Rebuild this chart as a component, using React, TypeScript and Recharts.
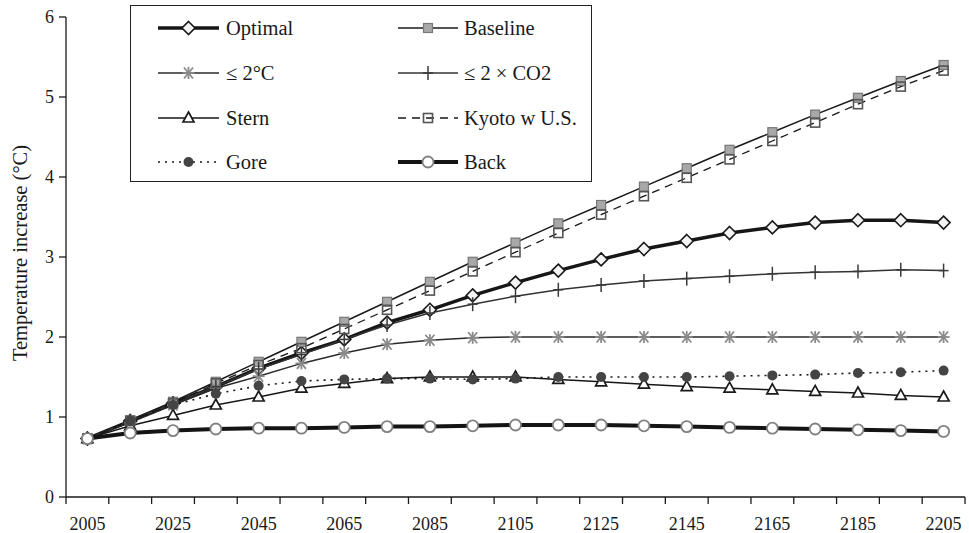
import React from "react"
import {
  CartesianGrid,
  Legend,
  Line,
  LineChart,
  XAxis,
  YAxis,
} from "recharts"

const years = [
  2005, 2015, 2025, 2035, 2045, 2055, 2065, 2075, 2085, 2095, 2105, 2115,
  2125, 2135, 2145, 2155, 2165, 2175, 2185, 2195, 2205,
]
const optimal = [0.73, 0.95, 1.17, 1.38, 1.61, 1.8, 1.97, 2.18, 2.34, 2.52, 2.68, 2.83, 2.97, 3.1, 3.2, 3.3, 3.37, 3.43, 3.46, 3.46, 3.43]
const baseline = [0.73, 0.96, 1.19, 1.44, 1.69, 1.94, 2.19, 2.44, 2.69, 2.94, 3.18, 3.42, 3.65, 3.88, 4.11, 4.34, 4.56, 4.78, 4.99, 5.2, 5.4]
const limit2C = [0.73, 0.93, 1.15, 1.36, 1.51, 1.67, 1.8, 1.91, 1.96, 1.99, 2.0, 2.0, 2.0, 2.0, 2.0, 2.0, 2.0, 2.0, 2.0, 2.0, 2.0]
const limit2CO2 = [0.73, 0.95, 1.17, 1.38, 1.6, 1.78, 1.97, 2.15, 2.3, 2.41, 2.51, 2.59, 2.65, 2.7, 2.73, 2.76, 2.79, 2.81, 2.82, 2.84, 2.83]
const stern = [0.73, 0.89, 1.02, 1.15, 1.25, 1.36, 1.42, 1.48, 1.5, 1.5, 1.5, 1.47, 1.44, 1.41, 1.38, 1.36, 1.34, 1.32, 1.3, 1.27, 1.25]
const kyoto = [0.73, 0.95, 1.17, 1.42, 1.65, 1.86, 2.1, 2.34, 2.58, 2.82, 3.06, 3.3, 3.53, 3.76, 3.99, 4.22, 4.45, 4.68, 4.91, 5.13, 5.33]
const gore = [0.73, 0.95, 1.15, 1.29, 1.39, 1.45, 1.47, 1.48, 1.48, 1.47, 1.48, 1.5, 1.5, 1.5, 1.5, 1.51, 1.52, 1.53, 1.55, 1.56, 1.58]
const back = [0.73, 0.8, 0.83, 0.85, 0.86, 0.86, 0.87, 0.88, 0.88, 0.89, 0.9, 0.9, 0.9, 0.89, 0.88, 0.87, 0.86, 0.85, 0.84, 0.83, 0.82]

// category boundaries carry the tick marks, labels sit every other category
const boundaryTicks = [
  2000, 2010, 2020, 2030, 2040, 2050, 2060, 2070, 2080, 2090, 2100, 2110,
  2120, 2130, 2140, 2150, 2160, 2170, 2180, 2190, 2200, 2210,
]
const labelTicks = [2005, 2025, 2045, 2065, 2085, 2105, 2125, 2145, 2165, 2185, 2205]
const yTicks = [0, 1, 2, 3, 4, 5, 6]
const gridValues = [1, 2, 3, 4, 5]

const FONT = "'Liberation Serif', 'DejaVu Serif', serif"

type Kind = "diamond" | "square" | "star" | "plus" | "triangle" | "openSquare" | "dot" | "circle"

type Series = {
  key: string
  name: string
  values: number[]
  stroke: string
  width: number
  dash?: string
  marker: Kind
}

const series: Series[] = [
  { key: "optimal", name: "Optimal", values: optimal, stroke: "#161616", width: 3.5, marker: "diamond" },
  { key: "baseline", name: "Baseline", values: baseline, stroke: "#1a1a1a", width: 1.5, marker: "square" },
  { key: "c2", name: "≤ 2°C", values: limit2C, stroke: "#2a2a2a", width: 1.5, marker: "star" },
  { key: "co2", name: "≤ 2 × CO2", values: limit2CO2, stroke: "#333", width: 1.5, marker: "plus" },
  { key: "stern", name: "Stern", values: stern, stroke: "#161616", width: 1.5, marker: "triangle" },
  { key: "kyoto", name: "Kyoto w U.S.", values: kyoto, stroke: "#161616", width: 1.3, dash: "8 6", marker: "openSquare" },
  { key: "gore", name: "Gore", values: gore, stroke: "#161616", width: 1.6, dash: "2 5", marker: "dot" },
  { key: "back", name: "Back", values: back, stroke: "#141414", width: 4, marker: "circle" },
]

const data = years.map((year, i) => {
  const row: Record<string, number> = { year }
  series.forEach((s) => {
    row[s.key] = s.values[i]
  })
  return row
})

function Marker({ kind, cx, cy }: { kind: Kind; cx: number; cy: number }) {
  if (cx == null || cy == null) return null
  switch (kind) {
    case "diamond":
      return (
        <polygon
          points={`${cx},${cy - 6.5} ${cx + 6.5},${cy} ${cx},${cy + 6.5} ${cx - 6.5},${cy}`}
          fill="#f4f4f4"
          stroke="#1a1a1a"
          strokeWidth={1.6}
        />
      )
    case "square":
      return <rect x={cx - 4.5} y={cy - 4.5} width={9} height={9} fill="#a8a8a8" stroke="#777" strokeWidth={1.2} />
    case "openSquare":
      return <rect x={cx - 4.5} y={cy - 4.5} width={9} height={9} fill="none" stroke="#555" strokeWidth={1.6} />
    case "star":
      return (
        <g stroke="#8a8a8a" strokeWidth={1.8}>
          <line x1={cx - 6} y1={cy} x2={cx + 6} y2={cy} />
          <line x1={cx - 4.5} y1={cy - 5.5} x2={cx + 4.5} y2={cy + 5.5} />
          <line x1={cx - 4.5} y1={cy + 5.5} x2={cx + 4.5} y2={cy - 5.5} />
          <line x1={cx} y1={cy - 6} x2={cx} y2={cy + 6} />
        </g>
      )
    case "plus":
      return (
        <g stroke="#3a3a3a" strokeWidth={1.5}>
          <line x1={cx - 5} y1={cy} x2={cx + 5} y2={cy} />
          <line x1={cx} y1={cy - 7} x2={cx} y2={cy + 7} />
        </g>
      )
    case "triangle":
      return (
        <polygon
          points={`${cx},${cy - 6} ${cx + 5.5},${cy + 4} ${cx - 5.5},${cy + 4}`}
          fill="#fff"
          stroke="#1a1a1a"
          strokeWidth={1.7}
        />
      )
    case "dot":
      return <circle cx={cx} cy={cy} r={5} fill="#444" />
    case "circle":
      return <circle cx={cx} cy={cy} r={5.5} fill="#fff" stroke="#808080" strokeWidth={1.8} />
  }
  return null
}

function LegendBox() {
  const rows = [22, 67, 112, 156]
  const cols = [
    { x1: 27, x2: 88, tx: 95 },
    { x1: 267, x2: 327, tx: 333 },
  ]
  return (
    <div
      style={{
        width: 462,
        height: 177,
        boxSizing: "border-box",
        border: "1px solid #222",
        background: "#fff",
      }}
    >
      <svg width={460} height={175}>
        {series.map((s, i) => {
          const c = cols[i % 2]
          const y = rows[Math.floor(i / 2)]
          return (
            <g key={s.key}>
              <line x1={c.x1} y1={y} x2={c.x2} y2={y} stroke={s.stroke} strokeWidth={s.width} strokeDasharray={s.dash} />
              <Marker kind={s.marker} cx={(c.x1 + c.x2) / 2} cy={y} />
              <text x={c.tx} y={y} dy="0.35em" fontFamily={FONT} fontSize={20.5} fill="#1a1a1a">
                {s.name}
              </text>
            </g>
          )
        })}
      </svg>
    </div>
  )
}

function AxisTitle(props: any) {
  const vb = props.viewBox || { x: 0, y: 17, width: 66, height: 480 }
  const cx = vb.x + 20
  const cy = vb.y + vb.height / 2 - 4
  return (
    <text
      x={cx}
      y={cy}
      transform={`rotate(-90, ${cx}, ${cy})`}
      textAnchor="middle"
      dominantBaseline="central"
      fontFamily={FONT}
      fontSize={20.5}
      fill="#1a1a1a"
    >
      Temperature increase (°C)
    </text>
  )
}

const NoLabel = () => <g />

export default function App() {
  const tickStyle = { fontFamily: FONT, fontSize: 18, fill: "#1a1a1a" }
  return (
    <div style={{ position: "absolute", left: 0, top: 0, width: 969, height: 533, background: "#fff" }}>
      <LineChart width={969} height={533} data={data} margin={{ top: 17, right: 4, left: 0, bottom: 0 }}>
        <CartesianGrid
          vertical={false}
          horizontalValues={gridValues}
          stroke="#1a1a1a"
          strokeDasharray="5 6"
        />
        <XAxis
          xAxisId="grid"
          dataKey="year"
          type="number"
          domain={[2000, 2210]}
          ticks={boundaryTicks}
          interval={0}
          tick={<NoLabel />}
          tickLine={{ stroke: "#1a1a1a", strokeWidth: 1.3 }}
          tickSize={7}
          height={7}
          stroke="#1a1a1a"
          strokeWidth={1.3}
        />
        <XAxis
          xAxisId="labels"
          dataKey="year"
          type="number"
          domain={[2000, 2210]}
          ticks={labelTicks}
          axisLine={false}
          tickLine={false}
          tickSize={0}
          tickMargin={13}
          height={29}
          tick={tickStyle}
          interval={0}
        />
        <XAxis
          xAxisId="top"
          orientation="top"
          type="number"
          domain={[2000, 2210]}
          height={0}
          tick={false}
          tickLine={false}
          stroke="#9a9a9a"
        />
        <YAxis
          yAxisId="left"
          type="number"
          domain={[0, 6]}
          ticks={yTicks}
          width={66}
          tickSize={7}
          tickMargin={5}
          tick={tickStyle}
          stroke="#1a1a1a"
          strokeWidth={1.3}
          label={<AxisTitle />}
        />
        <YAxis
          yAxisId="right"
          orientation="right"
          type="number"
          domain={[0, 6]}
          width={0}
          tick={false}
          tickLine={false}
          stroke="#9a9a9a"
        />
        {series.map((s) => (
          <Line
            key={s.key}
            xAxisId="grid"
            yAxisId="left"
            dataKey={s.key}
            name={s.name}
            type="linear"
            stroke={s.stroke}
            strokeWidth={s.width}
            strokeDasharray={s.dash}
            isAnimationActive={false}
            dot={(p: any) => <Marker key={`${s.key}-${p.index}`} kind={s.marker} cx={p.cx} cy={p.cy} />}
            activeDot={false}
          />
        ))}
        <Legend
          layout="vertical"
          align="center"
          verticalAlign="middle"
          content={() => <LegendBox />}
          wrapperStyle={{ left: 130, top: 5, width: 462, height: 177 }}
        />
      </LineChart>
    </div>
  )
}
